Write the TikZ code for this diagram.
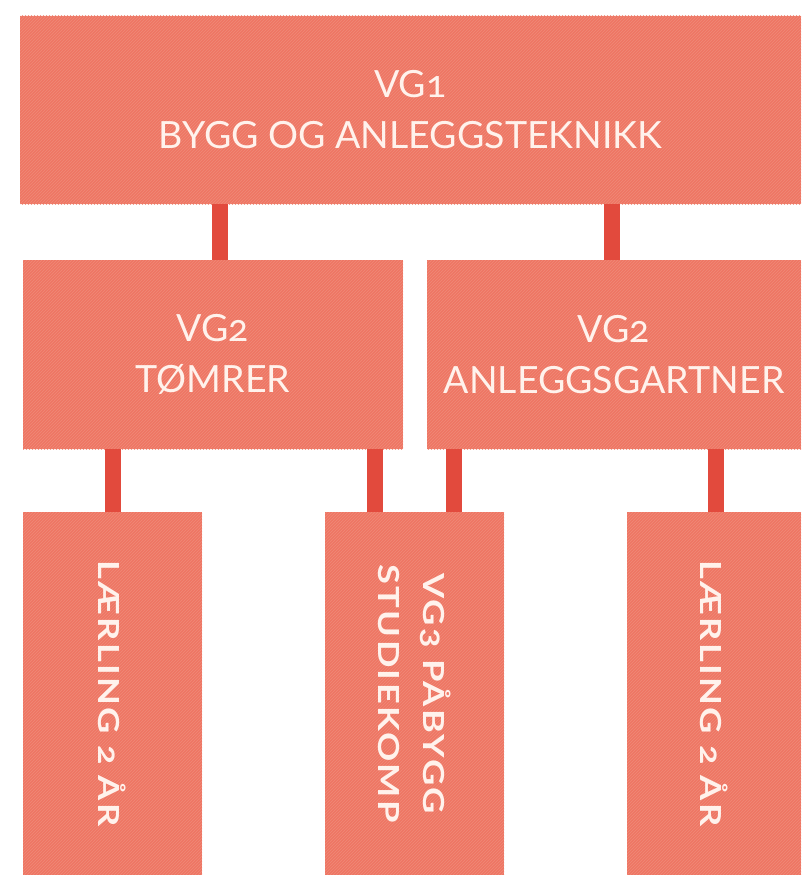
\documentclass[tikz,border=0pt]{standalone}
\usepackage{fontspec}
\setmainfont{Lato}[Numbers=OldStyle]
\newfontfamily\boldspaced{Lato}[Numbers=OldStyle, LetterSpace=8, FakeStretch=1.25]
\usetikzlibrary{patterns}
\definecolor{boxfill}{HTML}{EE7664}
\definecolor{boxtex}{HTML}{F08A78}
\definecolor{linkred}{HTML}{E24A3D}
\definecolor{txt}{HTML}{FFF2EC}
\begin{document}
\begin{tikzpicture}[x=1pt,y=-1pt,
  box/.style={fill=boxfill, postaction={pattern=north east lines, pattern color=boxtex}, inner sep=0pt, text=txt, align=center},
  bigtext/.style={font=\fontsize{37.5}{51}\selectfont},
  smalltext/.style={font=\boldspaced\bfseries\fontsize{29}{45}\selectfont},
  link/.style={draw=linkred, line width=16pt}]
\useasboundingbox (0,0) rectangle (801,875);
\fill[white] (0,0) rectangle (801,875);
\node[box, bigtext, minimum width=781pt, minimum height=188pt] (top) at (410.5,110) {VG1\\BYGG OG ANLEGGSTEKNIKK};
\node[box, bigtext, minimum width=380pt, minimum height=189pt] (midL) at (213,354.5) {VG2\\TØMRER};
\node[box, bigtext, minimum width=374pt, minimum height=189pt] (midR) at (614,354.5) {VG2\\ANLEGGSGARTNER};
\node[box, minimum width=179pt, minimum height=363pt] (botL) at (112.5,693.5) {};
\node[box, minimum width=179pt, minimum height=363pt] (botM) at (414.5,693.5) {};
\node[box, minimum width=174pt, minimum height=363pt] (botR) at (714,693.5) {};
\node[smalltext, text=txt, rotate=-90, align=center] (tL) at (botL.center) {LÆRLING 2 ÅR};
\node[smalltext, text=txt, rotate=-90, align=center] (tM) at (botM.center) {VG3 PÅBYGG\\STUDIEKOMP};
\node[smalltext, text=txt, rotate=-90, align=center] (tR) at (botR.center) {LÆRLING 2 ÅR};
\coordinate (x1) at (220,0);
\coordinate (x2) at (612,0);
\coordinate (x3) at (113,0);
\coordinate (x4) at (375,0);
\coordinate (x5) at (454,0);
\coordinate (x6) at (716,0);
\draw[link] (top.south -| x1) -- (midL.north -| x1);
\draw[link] (top.south -| x2) -- (midR.north -| x2);
\draw[link] (midL.south -| x3) -- (botL.north -| x3);
\draw[link] (midL.south -| x4) -- (botM.north -| x4);
\draw[link] (midR.south -| x5) -- (botM.north -| x5);
\draw[link] (midR.south -| x6) -- (botR.north -| x6);
\end{tikzpicture}
\end{document}
